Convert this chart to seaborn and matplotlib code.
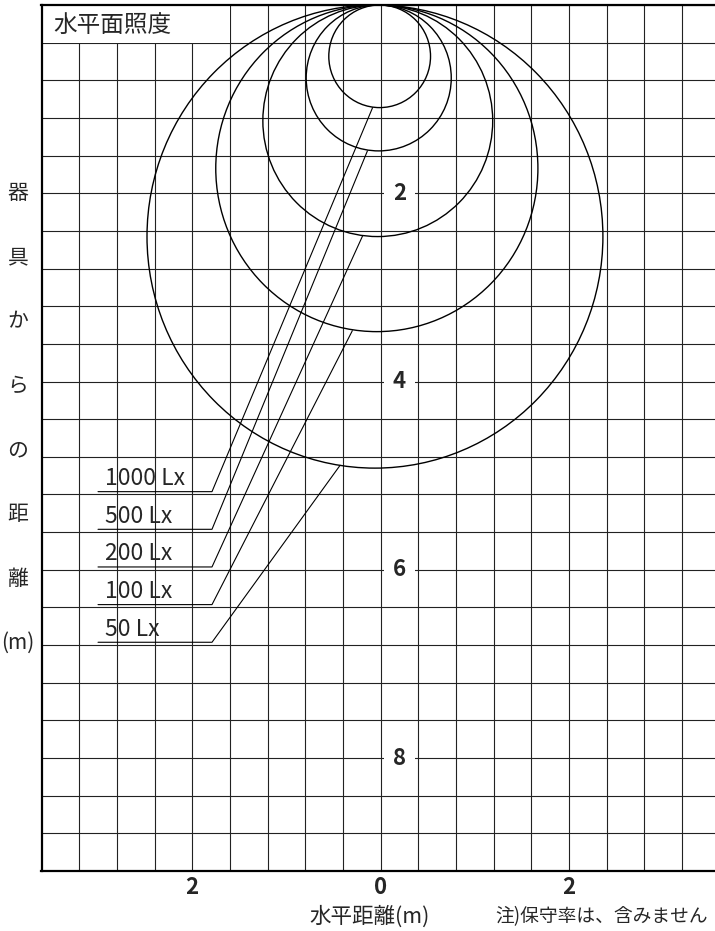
"""Isolux diagram (水平面照度) recreated with seaborn/matplotlib."""

import matplotlib

matplotlib.use("Agg")

import matplotlib.pyplot as plt
import numpy as np
import pandas as pd
import seaborn as sns
from matplotlib.patches import Ellipse, Rectangle

# --- data ------------------------------------------------------------------
lux_labels = ["1000 Lx", "500 Lx", "200 Lx", "100 Lx", "50 Lx"]
curve_center_x = [-0.01, -0.02, -0.03, -0.04, -0.06]
curve_width = [1.08, 1.54, 2.44, 3.42, 4.84]
curve_depth = [1.09, 1.55, 2.46, 3.47, 4.92]

leader_tip_x = [-0.085, -0.14, -0.19, -0.30, -0.43]
leader_tip_y = [1.09, 1.55, 2.45, 3.46, 4.89]
label_line_y = [5.17, 5.57, 5.97, 6.37, 6.77]
label_line_x0 = -3.0
label_line_x1 = -1.79

x_tick_pos = [-2, 0, 2]
x_tick_text = ["2", "0", "2"]
y_tick_pos = [2, 4, 6, 8]
y_tick_text = ["2", "4", "6", "8"]

y_label_chars = ["器", "具", "か", "ら", "の", "距", "離", "(m)"]

W, H = 715, 931
sns.set_theme(style="white")
plt.rcParams["font.family"] = ["Noto Sans CJK JP", "DejaVu Sans"]

fig = plt.figure(figsize=(W / 100, H / 100), dpi=100)
ax = fig.add_axes([41.5 / W, 1 - 871 / H, 1 - 41.5 / W, 866 / H])
ax.set_xlim(-3.6, 3.55)
ax.set_ylim(9.2, 0)

# grid every 0.4 m
ax.set_xticks(np.arange(-3.6, 3.56, 0.4))
ax.set_yticks(np.arange(0, 9.21, 0.4))
ax.grid(True, color="#222222", linewidth=0.8)
ax.tick_params(length=0, labelleft=False, labelbottom=False)
ax.set_axisbelow(True)

for side in ("left", "bottom", "top"):
    ax.spines[side].set_visible(True)
    ax.spines[side].set_color("black")
    ax.spines[side].set_linewidth(1.6)
ax.spines["right"].set_visible(False)

# title box in the top-left cell row
ax.add_patch(Rectangle((-3.6, 0), 2.0, 0.4, facecolor="white", edgecolor="none", zorder=1.5))
ax.text(-3.47, 0.22, "水平面照度", fontsize=17, va="center", ha="left", zorder=3)

# isolux curves
for cx, w, d in zip(curve_center_x, curve_width, curve_depth):
    ax.add_patch(Ellipse((cx, d / 2), w, d, facecolor="none", edgecolor="black",
                         linewidth=1.0, zorder=2))

# leader lines
rows = []
for name, ly, tx, ty in zip(lux_labels, label_line_y, leader_tip_x, leader_tip_y):
    rows += [(name, 0, label_line_x0, ly), (name, 1, label_line_x1, ly), (name, 2, tx, ty)]
leaders = pd.DataFrame(rows, columns=["label", "order", "x", "y"])
sns.lineplot(data=leaders, x="x", y="y", units="label", estimator=None, sort=False,
             color="black", linewidth=0.8, ax=ax, zorder=2)
ax.set_xlabel("")
ax.set_ylabel("")

for name, ly in zip(lux_labels, label_line_y):
    ax.text(label_line_x0 + 0.07, ly - 0.07, name, fontsize=16.5, va="baseline", ha="left", zorder=3)

# inner y tick labels
for pos, txt in zip(y_tick_pos, y_tick_text):
    ax.text(0.2, pos, txt, fontsize=16, fontweight="bold", ha="center", va="center", zorder=3,
            bbox=dict(boxstyle="square,pad=0.42", facecolor="white", edgecolor="none"))

# x tick labels below the axis
for pos, txt in zip(x_tick_pos, x_tick_text):
    ax.text(pos, 9.37, txt, fontsize=16, fontweight="bold", ha="center", va="center",
            clip_on=False)

# axis titles
for i, ch in enumerate(y_label_chars):
    fig.text(18 / W, 1 - (193 + 64.3 * i) / H, ch, fontsize=15, ha="center", va="center")
fig.text(370 / W, 1 - 917 / H, "水平距離(m)", fontsize=15.5, ha="center", va="center")
fig.text(602 / W, 1 - 917 / H, "注)保守率は、含みません", fontsize=13.5, ha="center", va="center")

fig.savefig("out.png", dpi=100)
plt.close(fig)
